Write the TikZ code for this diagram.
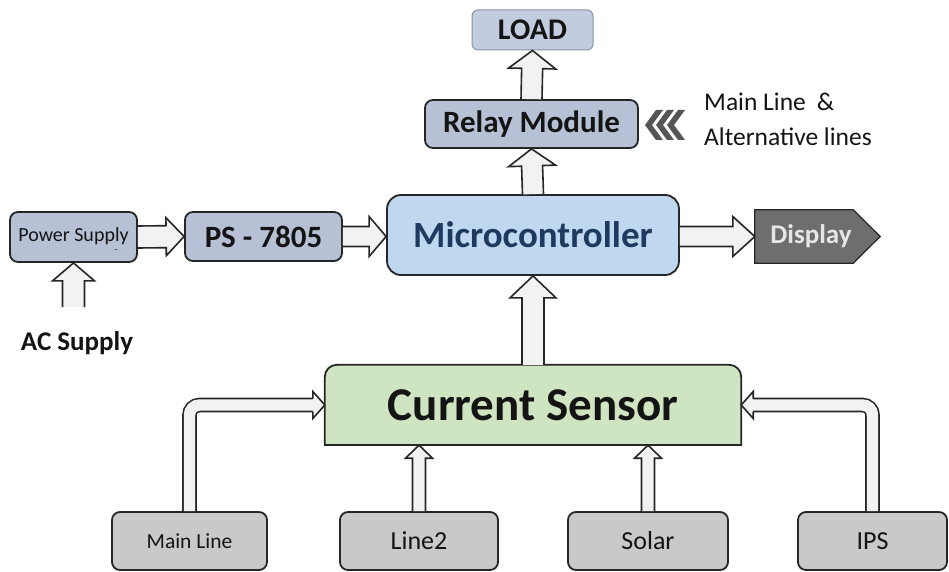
\documentclass[tikz,border=0pt]{standalone}
\usepackage{fontspec}
\setmainfont{Carlito}
\usetikzlibrary{calc}

\definecolor{afill}{HTML}{F2F2F2}
\definecolor{aline}{HTML}{262626}
\definecolor{slate}{HTML}{B7C1D6}
\definecolor{slatelight}{HTML}{C2CCDF}
\definecolor{slateedge}{HTML}{8A93A5}
\definecolor{microblue}{HTML}{BFD8EF}
\definecolor{microtext}{HTML}{1F3A60}
\definecolor{sensorgreen}{HTML}{CFE4C0}
\definecolor{boxgray}{HTML}{C9C9C9}
\definecolor{dispgray}{HTML}{6E6E6E}
\definecolor{disptext}{HTML}{E6E6E6}
\definecolor{chev}{HTML}{555555}
\definecolor{ink}{HTML}{141414}

\newcommand\fs[1]{\fontsize{#1}{#1}\selectfont}

% hollow block arrow: #1 tail, #2 tip, #3 half shaft width, #4 half head width, #5 head length
\newcommand\blockarrow[5]{%
  \coordinate (ab) at ($(#2)!#5!(#1)$);
  \filldraw[arrowbody] ($(#1)!#3!90:(#2)$) -- ($(ab)!#3!90:(#2)$) -- ($(ab)!#4!90:(#2)$)
    -- (#2) -- ($(ab)!#4!-90:(#2)$) -- ($(ab)!#3!-90:(#2)$) -- ($(#1)!#3!-90:(#2)$);
}
% open head only: #1 head base centre, #2 tip, #3 half shaft width, #4 half head width
\newcommand\headonly[4]{%
  \filldraw[arrowbody] ($(#1)!#3!90:(#2)$) -- ($(#1)!#4!90:(#2)$) -- (#2)
    -- ($(#1)!#4!-90:(#2)$) -- ($(#1)!#3!-90:(#2)$);
}

\begin{document}
\begin{tikzpicture}[x=1pt,y=-1pt,
  arrowbody/.style={fill=afill,draw=aline,line width=1.6pt,line join=miter},
  bentshaft/.style={draw=aline,line width=1.6pt,double=afill,double distance=11.4pt,rounded corners=10pt},
  blk/.style={draw=aline,line width=1.8pt,rounded corners=8pt,inner sep=0pt,text=ink,align=center},
  slatebox/.style={blk,fill=slate},
  graybox/.style={blk,fill=boxgray,minimum width=#1,minimum height=58pt,font=\fs{26}},
  graybox/.default=156pt,
  plain/.style={inner sep=0pt,text=ink}]
\useasboundingbox (0,0) rectangle (949,572);
\fill[white] (0,0) rectangle (949,572);

% ---- upper chain ----
\node[blk,fill=slatelight,draw=slateedge,line width=1pt,rounded corners=6pt,
      minimum width=121pt,minimum height=40pt,font=\bfseries\fs{30}] (load) at (532.5,30) {LOAD};
\node[slatebox,minimum width=213pt,minimum height=48pt,font=\bfseries\fs{31}] (relay) at (531.5,124) {Relay Module};
\node[blk,fill=microblue,rounded corners=14pt,minimum width=292pt,minimum height=80pt,
      text=microtext,font=\bfseries\fs{37}] (micro) at (533,235) {Microcontroller};
\node[slatebox,minimum width=127pt,minimum height=50pt,font=\fs{20}] (psup) at (73.5,237) {\raisebox{5pt}{Power Supply}};
\node[plain,font=\fs{9}] (tick) at (116,251) {-};
\node[slatebox,minimum width=157pt,minimum height=49pt,font=\bfseries\fs{31}] (ps) at (263.5,236.5) {PS - 7805};
\node[plain,font=\bfseries\fs{27}] (acs) at (77,343) {AC Supply};
\coordinate (acin) at (73.5,307);

% display tag (pentagon)
\node[inner sep=0pt,minimum width=112pt,minimum height=53pt] (disp) at (811,236.5) {};
\fill[dispgray] (disp.north west) -- ($(disp.north east)+(-14pt,0)$) -- ($(disp.east)+(13pt,0)$)
  -- ($(disp.south east)+(-14pt,0)$) -- (disp.south west) -- cycle;
\draw[aline,line width=1.2pt,line join=miter] (disp.north west) -- ($(disp.north east)+(-14pt,0)$) -- ($(disp.east)+(13pt,0)$)
  -- ($(disp.south east)+(-14pt,0)$) -- (disp.south west) -- cycle;
\node[plain,text=disptext,font=\bfseries\fs{27}] at (disp.center) {Display};

% relay side input
\foreach \cx in {645,656,667}{
  \fill[chev] (\cx,125) -- (\cx+11,110) -- (\cx+18,110) -- (\cx+7,125) -- (\cx+18,140) -- (\cx+11,140) -- cycle;
}
\node[plain,anchor=west,font=\fs{25.5}] (lineA) at (704,102) {Main Line\hspace{11pt}\&};
\node[plain,anchor=west,font=\fs{25.5}] (lineB) at (704,137) {Alternative lines};

% ---- sensor and sources ----
\node[inner sep=0pt,minimum width=416pt,minimum height=80pt] (sensor) at (533,405) {};
\filldraw[fill=sensorgreen,draw=aline,line width=1.8pt,rounded corners=12pt]
  (sensor.south west) -- (sensor.north west) -- (sensor.north east) -- (sensor.south east);
\draw[aline,line width=1.8pt,line cap=rect] (sensor.south west) -- (sensor.south east);
\node[plain,font=\bfseries\fs{47}] at (sensor.center) {Current Sensor};

\node[graybox=155pt,font=\fs{21.5}] (mainl) at (189.5,541) {Main Line};
\node[graybox=158pt] (line2) at (419,541) {Line2};
\node[graybox=160pt] (solar) at (648,541) {Solar};
\node[graybox=149pt] (ips) at (872.5,541) {IPS};

% ---- block arrows ----
\blockarrow{relay.north}{load.south}{10.5pt}{23.5pt}{18pt}
\blockarrow{micro.north}{relay.south}{10.5pt}{23.5pt}{17pt}
\blockarrow{psup.east}{ps.west}{11pt}{19pt}{18pt}
\coordinate (pm) at (ps.east -| micro.west);
\blockarrow{ps.east}{pm}{10pt}{20pt}{17pt}
\coordinate (md) at (micro.east |- disp.west);
\blockarrow{md}{disp.west}{10pt}{20pt}{22pt}
\blockarrow{sensor.north}{micro.south}{11pt}{23pt}{22pt}
\blockarrow{acin}{psup.south}{11pt}{21pt}{18pt}
\coordinate (l2) at (line2.north |- sensor.south);
\blockarrow{line2.north}{l2}{6.5pt}{13.5pt}{13pt}
\coordinate (so) at (solar.north |- sensor.south);
\blockarrow{solar.north}{so}{6.5pt}{13.5pt}{13pt}

% bent feeds into the sensor sides
\coordinate (mhb) at ($(sensor.west)+(-12pt,0)$);
\draw[bentshaft] (mainl.north) |- (mhb);
\headonly{mhb}{sensor.west}{6.5pt}{13.5pt}
\coordinate (ihb) at ($(sensor.east)+(12pt,0)$);
\draw[bentshaft] (ips.north) |- (ihb);
\headonly{ihb}{sensor.east}{6.5pt}{13.5pt}
\end{tikzpicture}
\end{document}
